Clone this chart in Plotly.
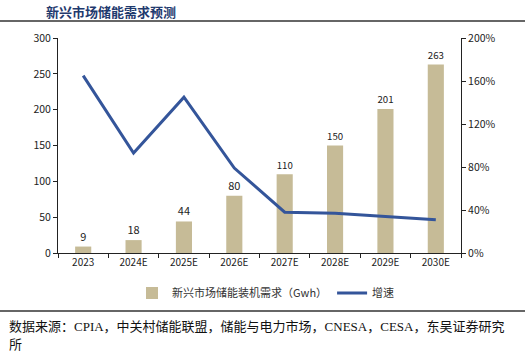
import plotly.graph_objects as go

years = ["2023", "2024E", "2025E", "2026E", "2027E", "2028E", "2029E", "2030E"]
demand = [9, 18, 44, 80, 110, 150, 201, 263]
growth = [1.65, 0.93, 1.45, 0.79, 0.38, 0.37, 0.34, 0.31]
left_ticks = [0, 50, 100, 150, 200, 250, 300]
right_ticks = [0, 0.4, 0.8, 1.2, 1.6, 2.0]

W, H = 525, 353
L, R, T, B = 58, 461, 38, 253

def px(x):
    return (x - L) / (R - L)

def py(y):
    return (B - y) / (B - T)

font = "Noto Sans CJK SC, Open Sans, sans-serif"
serif = "Liberation Serif, Noto Sans CJK SC, serif"

fig = go.Figure()
fig.add_trace(go.Bar(
    x=years, y=demand, name="新兴市场储能装机需求（Gwh）",
    marker=dict(color="#C6BB97", line=dict(width=0)),
    text=[str(v) for v in demand], textposition="outside",
    textfont=dict(size=11, color="#222222"), cliponaxis=False,
    yaxis="y"))
fig.add_trace(go.Scatter(
    x=years, y=growth, name="增速", mode="lines",
    line=dict(color="#34559A", width=3), yaxis="y2"))

fig.update_layout(
    width=W, height=H, paper_bgcolor="white", plot_bgcolor="white",
    margin=dict(l=L, r=W - R, t=T, b=H - B, autoexpand=False),
    font=dict(family=font, size=11, color="#222222"),
    bargap=0.68, showlegend=True,
    legend=dict(orientation="h", x=px(132), y=py(293), xanchor="left", yanchor="middle",
                font=dict(size=11, color="#333333"), itemwidth=30, tracegroupgap=0,
                bgcolor="rgba(0,0,0,0)"),
    xaxis=dict(showline=True, linecolor="#222222", linewidth=1, ticks="outside",
               tickson="boundaries", ticklen=4, tickcolor="#222222",
               tickfont=dict(size=10), showgrid=False),
    yaxis=dict(range=[0, 300], tickvals=left_ticks, showline=True, linecolor="#222222",
               linewidth=1, ticks="outside", ticklen=4, tickcolor="#222222",
               showgrid=False, zeroline=False, tickfont=dict(size=10.5)),
    yaxis2=dict(range=[0, 2.0], tickvals=right_ticks, tickformat=".0%", overlaying="y",
                side="right", showline=True, linecolor="#222222", linewidth=1,
                ticks="outside", ticklen=4, tickcolor="#222222", showgrid=False,
                zeroline=False, tickfont=dict(size=10.5)),
)

fig.add_annotation(x=px(44), y=py(12), xref="paper", yref="paper", xanchor="left",
                   yanchor="middle", showarrow=False, text="<b>新兴市场储能需求预测</b>",
                   font=dict(size=13, color="#1F3A6E", family=font))
fig.add_shape(type="line", xref="paper", yref="paper", x0=px(0), x1=px(W),
              y0=py(21), y1=py(21), line=dict(color="#333333", width=1.5))
fig.add_shape(type="line", xref="paper", yref="paper", x0=px(0), x1=px(W),
              y0=py(311), y1=py(311), line=dict(color="#333333", width=1.5))
fig.add_annotation(x=px(7), y=py(326), xref="paper", yref="paper", xanchor="left",
                   yanchor="middle", showarrow=False, align="left",
                   text="数据来源：CPIA，中关村储能联盟，储能与电力市场，CNESA，CESA，东吴证券研究",
                   font=dict(size=13, color="#111111", family=serif))
fig.add_annotation(x=px(7), y=py(344), xref="paper", yref="paper", xanchor="left",
                   yanchor="middle", showarrow=False, align="left", text="所",
                   font=dict(size=13, color="#111111", family=serif))

fig.write_html("out.html")
